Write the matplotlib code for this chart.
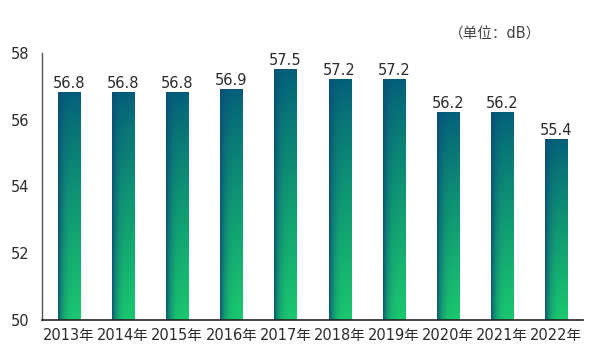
import numpy as np
import matplotlib
matplotlib.use("Agg")
import matplotlib.pyplot as plt

plt.rcParams['font.family'] = ['DejaVu Sans', 'Noto Sans CJK SC']

# --- data ---
years = ["2013年", "2014年", "2015年", "2016年", "2017年",
         "2018年", "2019年", "2020年", "2021年", "2022年"]
noise_db = [56.8, 56.8, 56.8, 56.9, 57.5, 57.2, 57.2, 56.2, 56.2, 55.4]
y_ticks = [50, 52, 54, 56, 58]

# gradient colours
top_col = np.array([0x03, 0x5e, 0x7a]) / 255
bot_col = np.array([0x1a, 0xc8, 0x6e]) / 255
edge_col = np.array([0x0a, 0x4e, 0x76]) / 255


def bar_gradient(n=200, m=40):
    v = np.linspace(0, 1, n)[:, None, None] ** 0.85   # 0 top -> 1 bottom
    u = np.linspace(0, 1, m)[None, :, None]           # 0 left -> 1 right
    base = top_col + (bot_col - top_col) * v
    w = (1 - u) ** 4 * 0.9
    img = base * (1 - w) + edge_col * w
    return np.clip(img, 0, 1)


fig = plt.figure(figsize=(6, 3.6), dpi=100)
ax = fig.add_axes([0.07, 0.111, 0.902, 0.742])

x = np.arange(len(years))
width = 0.41
bars = ax.bar(x, noise_db, width=width, color="none", zorder=2)

grad = bar_gradient()
for b, val in zip(bars, noise_db):
    x0 = b.get_x()
    ax.imshow(grad, extent=[x0, x0 + width, 50, val], aspect="auto",
              origin="upper", zorder=2, interpolation="bilinear")
    ax.text(x0 + width / 2, val + 0.05, f"{val:.1f}", ha="center",
            va="bottom", fontsize=10.5, color="#2b2b2b")

ax.set_xlim(-0.5, len(years) - 0.5)
ax.set_ylim(50, 58)
ax.set_yticks(y_ticks)
ax.set_xticks(x)
ax.set_xticklabels(years)
ax.tick_params(axis="both", length=0, labelsize=10.5, colors="#2b2b2b")
ax.tick_params(axis="y", pad=9)
ax.tick_params(axis="x", pad=6)

for s in ["top", "right"]:
    ax.spines[s].set_visible(False)
ax.spines["left"].set_color("#555555")
ax.spines["left"].set_linewidth(1.0)
ax.spines["bottom"].set_color("#222222")
ax.spines["bottom"].set_linewidth(1.2)

fig.text(0.825, 0.905, "（单位：dB）", ha="center", va="center",
         fontsize=10.5, color="#444444")

fig.savefig("out.png", dpi=100)
